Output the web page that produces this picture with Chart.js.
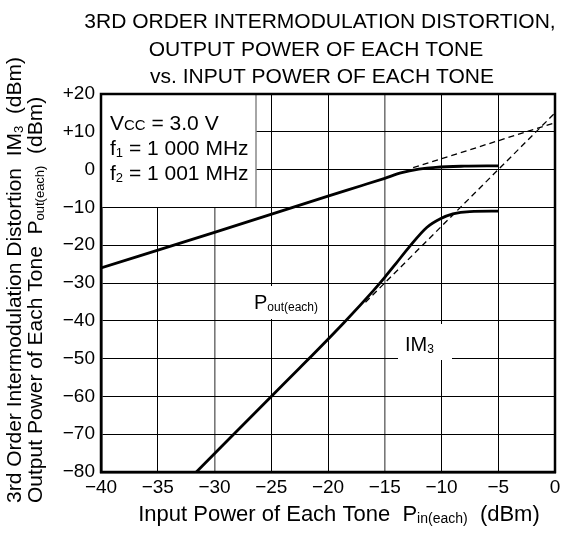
<!DOCTYPE html>
<html>
<head>
<meta charset="utf-8">
<script src="https://cdn.jsdelivr.net/npm/chart.js@4/dist/chart.umd.min.js"></script>
<style>
  body { margin: 0; background: #fff; }
  #wrap { width: 565px; height: 533px; position: relative; }
</style>
</head>
<body>
<div id="wrap"><canvas id="myChart"></canvas></div>
<script>
// input power of each tone (dBm)
const pinPout = [-40, -30, -20, -17, -15, -13.5, -12, -10.5, -8, -5];
const poutEach = [-26, -16.6, -7, -4.2, -2.3, -0.8, 0.1, 0.6, 0.9, 1.0];

const pinIm3 = [-31.6, -25, -22.5, -18.6, -16, -15, -14, -12.8, -11.3, -10.1, -9, -7.5, -5];
const im3 = [-80, -60, -52.5, -40.5, -32, -28.5, -24.8, -20.3, -15.3, -13, -11.7, -11.1, -11];

// extrapolated (dashed) lines
const poutExtX = [-12.5, 0];
const poutExtY = [0.5, 12.4];
const im3ExtX = [-16.7, 0];
const im3ExtY = [-35.1, 15];

const xTicks = [-40, -35, -30, -25, -20, -15, -10, -5, 0];
const yTicks = [20, 10, 0, -10, -20, -30, -40, -50, -60, -70, -80];

const FONT = '"Liberation Sans", Arial, Helvetica, sans-serif';

function pts(xs, ys) {
  return xs.map((v, i) => ({ x: v, y: ys[i] }));
}

// draws text with small / subscript parts, returns width
function rich(ctx, parts, x, y, size) {
  let cx = x;
  parts.forEach(p => {
    const s = p.sub ? Math.round(size * 0.62) : (p.small ? Math.round(size * 0.72) : size);
    ctx.font = s + 'px ' + FONT;
    ctx.fillText(p.t, cx, y + (p.sub ? 2 : 0));
    cx += ctx.measureText(p.t).width;
  });
  return cx - x;
}
function richWidth(ctx, parts, size) {
  let w = 0;
  parts.forEach(p => {
    const s = p.sub ? Math.round(size * 0.62) : (p.small ? Math.round(size * 0.72) : size);
    ctx.font = s + 'px ' + FONT;
    w += ctx.measureText(p.t).width;
  });
  return w;
}

const annot = {
  id: 'annot',
  beforeDatasetsDraw(chart) {
    const { ctx, chartArea: a } = chart;
    ctx.save();
    ctx.fillStyle = '#fff';
    // condition box
    ctx.fillRect(a.left, a.top, 256 - a.left, 207 - a.top);
    ctx.strokeStyle = '#888';
    ctx.lineWidth = 1.5;
    ctx.beginPath();
    ctx.moveTo(256, a.top);
    ctx.lineTo(256, 207);
    ctx.stroke();
    // label boxes
    ctx.fillStyle = '#fff';
    ctx.fillRect(246, 286, 80, 33);
    ctx.fillRect(398, 324, 54, 36);
    ctx.restore();
  },
  afterDatasetsDraw(chart) {
    const { ctx, chartArea: a } = chart;
    ctx.save();
    ctx.strokeStyle = '#000';
    ctx.lineWidth = 2.5;
    ctx.strokeRect(a.left, a.top, a.right - a.left, a.bottom - a.top);

    ctx.fillStyle = '#000';
    ctx.textBaseline = 'alphabetic';
    ctx.textAlign = 'left';
    rich(ctx, [{ t: 'V' }, { t: 'CC', small: true }, { t: ' = 3.0 V' }], 110, 130, 21);
    rich(ctx, [{ t: 'f' }, { t: '1', sub: true }, { t: ' = 1 000 MHz' }], 110, 155, 21);
    rich(ctx, [{ t: 'f' }, { t: '2', sub: true }, { t: ' = 1 001 MHz' }], 110, 180, 21);

    rich(ctx, [{ t: 'P' }, { t: 'out(each)', sub: true }], 254, 309, 20);
    rich(ctx, [{ t: 'IM' }, { t: '3', sub: true }], 405, 351, 20);
    ctx.restore();
  },
  afterDraw(chart) {
    const { ctx } = chart;
    ctx.save();
    ctx.fillStyle = '#000';
    ctx.textBaseline = 'alphabetic';
    ctx.textAlign = 'center';
    ctx.font = '21px ' + FONT;
    ctx.fillText('3RD ORDER INTERMODULATION DISTORTION,', 320, 28);
    ctx.fillText('OUTPUT POWER OF EACH TONE', 316, 56);
    ctx.fillText('vs. INPUT POWER OF EACH TONE', 322, 83);

    // x axis title
    ctx.textAlign = 'left';
    const xt = [{ t: 'Input Power of Each Tone  P' }, { t: 'in(each)', sub: true }, { t: '  (dBm)' }];
    rich(ctx, xt, 339 - richWidth(ctx, xt, 22) / 2, 521, 22);

    // y axis titles
    ctx.save();
    ctx.translate(21, 503);
    ctx.rotate(-Math.PI / 2);
    rich(ctx, [{ t: '3rd Order Intermodulation Distortion  IM' }, { t: '3', sub: true }, { t: '  (dBm)' }], 0, 0, 21);
    ctx.restore();
    ctx.save();
    ctx.translate(42, 503);
    ctx.rotate(-Math.PI / 2);
    rich(ctx, [{ t: 'Output Power of Each Tone  P' }, { t: 'out(each)', sub: true }, { t: '  (dBm)' }], 0, 0, 21);
    ctx.restore();
    ctx.restore();
  }
};

const solid = { borderColor: '#000', borderWidth: 2.8, pointRadius: 0, fill: false, cubicInterpolationMode: 'monotone' };
const dashed = { borderColor: '#000', borderWidth: 1.3, borderDash: [6, 4], pointRadius: 0, fill: false };

const ctx = document.getElementById('myChart').getContext('2d');
const chart = new Chart(ctx, {
  type: 'line',
  data: {
    datasets: [
      Object.assign({ label: 'Pout ext', data: pts(poutExtX, poutExtY) }, dashed),
      Object.assign({ label: 'IM3 ext', data: pts(im3ExtX, im3ExtY) }, dashed),
      Object.assign({ label: 'Pout(each)', data: pts(pinPout, poutEach) }, solid),
      Object.assign({ label: 'IM3', data: pts(pinIm3, im3) }, solid)
    ]
  },
  options: {
    responsive: true,
    maintainAspectRatio: false,
    animation: false,
    layout: { padding: { top: 94, right: 10, left: 0, bottom: 0 } },
    plugins: { legend: { display: false }, tooltip: { enabled: false }, title: { display: false } },
    scales: {
      x: {
        type: 'linear', min: -40, max: 0,
        afterFit: s => { s.height = 61; },
        afterBuildTicks: s => { s.ticks = xTicks.map(v => ({ value: v })); },
        ticks: {
          color: '#000', padding: 4,
          font: { family: FONT, size: 19 },
          callback: v => v === 0 ? '0' : '\u2212' + Math.abs(v)
        },
        grid: {
          drawTicks: false,
          color: c => (c.tick && (c.tick.value === -30 || c.tick.value === -15)) ? '#777' : '#000',
          lineWidth: c => (c.tick && (c.tick.value === -30 || c.tick.value === -15)) ? 1.6 : 1
        },
        border: { color: '#000', width: 2.5 }
      },
      y: {
        type: 'linear', min: -80, max: 20,
        afterFit: s => { s.width = 101; },
        afterBuildTicks: s => { s.ticks = yTicks.map(v => ({ value: v })); },
        ticks: {
          color: '#000', padding: 6,
          font: { family: FONT, size: 19 },
          callback: v => v > 0 ? '+' + v : (v < 0 ? '\u2212' + Math.abs(v) : '0')
        },
        grid: { drawTicks: false, color: '#000', lineWidth: 1 },
        border: { color: '#000', width: 2.5 }
      }
    }
  },
  plugins: [annot]
});
</script>
</body>
</html>
